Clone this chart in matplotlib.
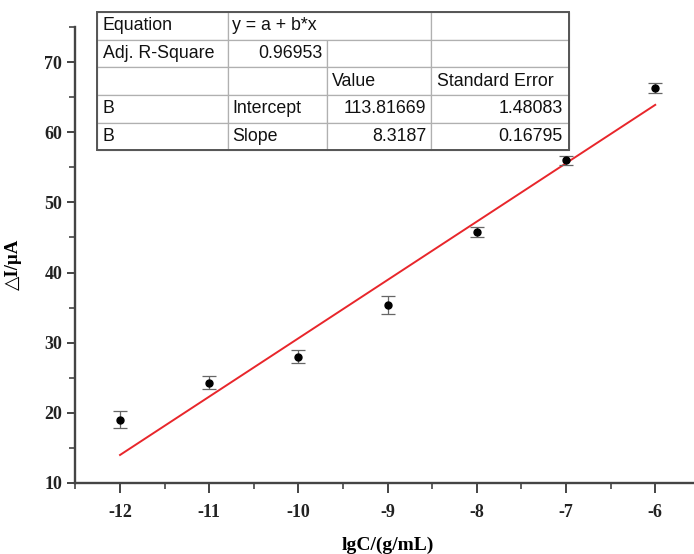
import numpy as np
import matplotlib.pyplot as plt
from matplotlib.patches import Rectangle
from matplotlib.ticker import MultipleLocator

plt.rcParams['axes.unicode_minus'] = False

# data
lgC = [-12, -11, -10, -9, -8, -7, -6]
dI = [19.0, 24.3, 28.0, 35.4, 45.8, 56.0, 66.3]
dI_err = [1.2, 0.9, 0.9, 1.3, 0.7, 0.6, 0.7]

# linear fit parameters (from the table)
intercept = 113.81669
slope = 8.3187
table_rows = [
    ["Equation", "y = a + b*x", "", ""],
    ["Adj. R-Square", "0.96953", "", ""],
    ["", "", "Value", "Standard Error"],
    ["B", "Intercept", "113.81669", "1.48083"],
    ["B", "Slope", "8.3187", "0.16795"],
]

serif = ['Liberation Serif', 'DejaVu Serif']

fig = plt.figure(figsize=(6.94, 5.54), dpi=100)
ax = fig.add_axes([0.1087, 0.1282, 0.8997, 0.823])

ax.errorbar(lgC, dI, yerr=dI_err, fmt='o', color='black', markersize=5,
            ecolor='#666666', elinewidth=0.9, capsize=5, capthick=0.9, zorder=3)

x_fit = np.array([lgC[0], lgC[-1]])
ax.plot(x_fit, intercept + slope * x_fit, color='#e8262b', lw=1.4, zorder=2)

ax.set_xlim(-12.5, -5.5)
ax.set_ylim(10, 75)
ax.xaxis.set_major_locator(MultipleLocator(1))
ax.xaxis.set_minor_locator(MultipleLocator(0.5))
ax.yaxis.set_minor_locator(MultipleLocator(5))
ax.set_yticks([10, 20, 30, 40, 50, 60, 70])

for s in ['top', 'right']:
    ax.spines[s].set_visible(False)
for s in ['left', 'bottom']:
    ax.spines[s].set_linewidth(1.7)
    ax.spines[s].set_color('#444444')

ax.tick_params(which='major', direction='out', length=6, width=1.4, color='#444444')
ax.tick_params(which='minor', direction='out', length=4, width=1.2, color='#444444')
ax.tick_params(axis='x', which='major', length=7, pad=8)

for lab in ax.get_xticklabels() + ax.get_yticklabels():
    lab.set_family(serif)
    lab.set_fontweight('bold')
    lab.set_fontsize(13)
    lab.set_color('#222222')

ax.set_xlabel("lgC/(g/mL)", family=serif, fontweight='bold', fontsize=14)
ax.xaxis.set_label_coords(0.5, -0.118)
ax.set_ylabel("△I/μA", family=serif, fontweight='bold', fontsize=13.5)
ax.yaxis.set_label_coords(-0.086, 0.48)

# fit result table
col_w = [131, 99, 104, 138]
tab = ax.table(cellText=table_rows, colWidths=[w / sum(col_w) for w in col_w],
               cellLoc='left', bbox=[0.0346, 0.730, 0.7905 - 0.0346, 0.303])
tab.auto_set_font_size(False)
right_cells = [(1, 1), (3, 2), (3, 3), (4, 2), (4, 3)]
for (r, c), cell in tab.get_celld().items():
    cell.set_edgecolor('#b0b0b0')
    cell.set_linewidth(0.9)
    cell.PAD = 0.045
    txt = cell.get_text()
    txt.set_family(['Liberation Sans', 'DejaVu Sans'])
    txt.set_fontsize(12.8)
    txt.set_color('#111111')
    if (r, c) in right_cells:
        cell._loc = 'right'
        txt.set_ha('right')
tab[0, 1].visible_edges = 'BTL'
tab[0, 2].visible_edges = 'BTR'
ax.add_patch(Rectangle((0.0346, 0.730), 0.7905 - 0.0346, 0.303, transform=ax.transAxes,
                       fill=False, edgecolor='#555555', lw=1.4, clip_on=False, zorder=5))

plt.savefig("out.png", dpi=100)
